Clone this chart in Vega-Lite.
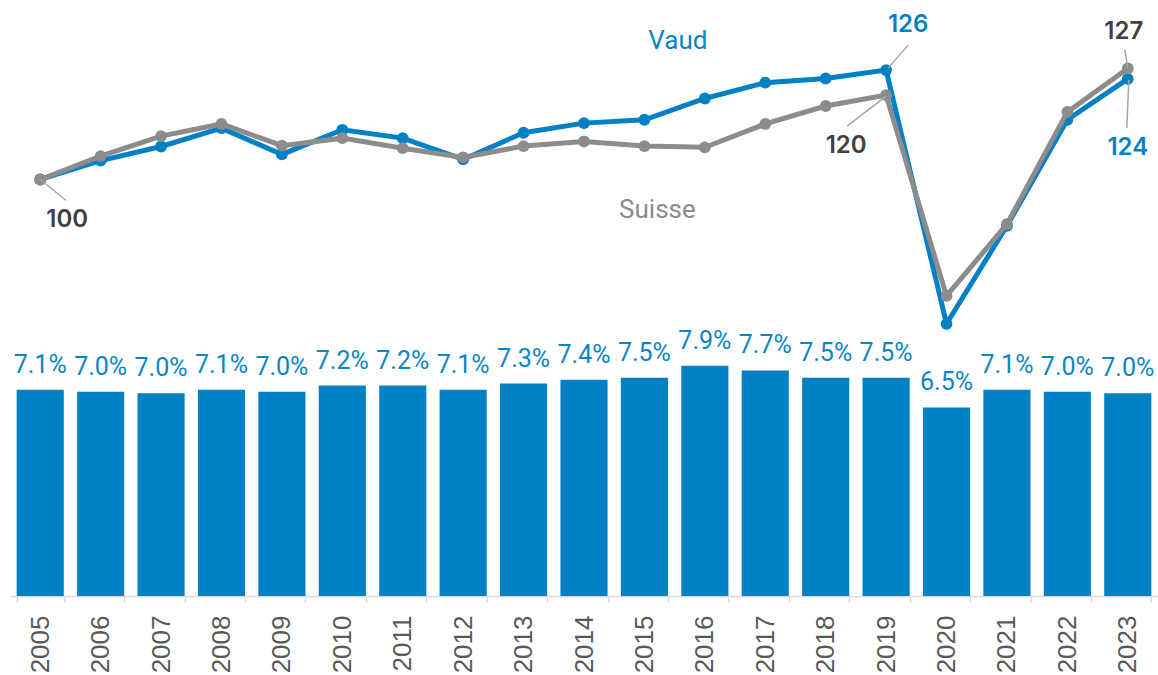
{
  "$schema": "https://vega.github.io/schema/vega-lite/v6.json",
  "width": 1148,
  "height": 596,
  "autosize": {"type": "none"},
  "padding": {"left": 10, "top": 0, "right": 0, "bottom": 79},
  "background": "white",
  "config": {"view": {"stroke": null}},
  "data": {
    "values": [
      {"year": "2005", "share": 0.0708, "vaud": 100.0, "suisse": 100.0},
      {"year": "2006", "share": 0.0701, "vaud": 104.5, "suisse": 105.6},
      {"year": "2007", "share": 0.0696, "vaud": 107.9, "suisse": 110.4},
      {"year": "2008", "share": 0.0708, "vaud": 112.3, "suisse": 113.3},
      {"year": "2009", "share": 0.0701, "vaud": 106.0, "suisse": 108.1},
      {"year": "2010", "share": 0.0722, "vaud": 111.9, "suisse": 109.9},
      {"year": "2011", "share": 0.0722, "vaud": 109.9, "suisse": 107.5},
      {"year": "2012", "share": 0.0708, "vaud": 104.8, "suisse": 105.3},
      {"year": "2013", "share": 0.0729, "vaud": 111.2, "suisse": 108.0},
      {"year": "2014", "share": 0.0742, "vaud": 113.5, "suisse": 109.1},
      {"year": "2015", "share": 0.0749, "vaud": 114.3, "suisse": 108.0},
      {"year": "2016", "share": 0.0790, "vaud": 119.4, "suisse": 107.7},
      {"year": "2017", "share": 0.0774, "vaud": 123.2, "suisse": 113.3},
      {"year": "2018", "share": 0.0749, "vaud": 124.2, "suisse": 117.6},
      {"year": "2019", "share": 0.0749, "vaud": 126.2, "suisse": 120.2},
      {"year": "2020", "share": 0.0647, "vaud": 65.4, "suisse": 72.1},
      {"year": "2021", "share": 0.0708, "vaud": 88.9, "suisse": 89.3},
      {"year": "2022", "share": 0.0701, "vaud": 114.3, "suisse": 116.2},
      {"year": "2023", "share": 0.0696, "vaud": 124.1, "suisse": 126.6}
    ]
  },
  "encoding": {
    "x": {
      "field": "year",
      "type": "ordinal",
      "scale": {"paddingInner": 0.22, "paddingOuter": 0.11},
      "axis": {
        "title": null,
        "labelAngle": -90,
        "labelFont": "Liberation Sans",
        "labelFontSize": 26,
        "labelColor": "#595959",
        "labelPadding": 13,
        "tickBand": "extent",
        "tickColor": "#D9D9D9",
        "tickWidth": 1.5,
        "tickSize": 6,
        "domainColor": "#D9D9D9",
        "domainWidth": 1.5
      }
    }
  },
  "layer": [
    {
      "mark": {"type": "bar", "color": "#0081C6"},
      "encoding": {
        "y": {"field": "share", "type": "quantitative", "scale": {"domain": [0, 0.2045]}, "axis": null}
      }
    },
    {
      "mark": {"type": "text", "font": "Roboto", "fontSize": 25, "color": "#0A85C7", "baseline": "alphabetic", "dy": -17},
      "encoding": {
        "y": {"field": "share", "type": "quantitative", "scale": {"domain": [0, 0.2045]}, "axis": null},
        "text": {"field": "share", "type": "quantitative", "format": ".1%"}
      }
    },
    {
      "mark": {"type": "line", "color": "#0081C6", "strokeWidth": 5},
      "encoding": {
        "y": {"field": "vaud", "type": "quantitative", "scale": {"domain": [0.2, 143]}, "axis": null}
      }
    },
    {
      "mark": {"type": "point", "filled": true, "opacity": 1, "color": "#0081C6", "size": 140},
      "encoding": {
        "y": {"field": "vaud", "type": "quantitative", "scale": {"domain": [0.2, 143]}, "axis": null}
      }
    },
    {
      "mark": {"type": "line", "color": "#8C8C8C", "strokeWidth": 5},
      "encoding": {
        "y": {"field": "suisse", "type": "quantitative", "scale": {"domain": [0.2, 143]}, "axis": null}
      }
    },
    {
      "mark": {"type": "point", "filled": true, "opacity": 1, "color": "#8C8C8C", "size": 140},
      "encoding": {
        "y": {"field": "suisse", "type": "quantitative", "scale": {"domain": [0.2, 143]}, "axis": null}
      }
    },
    {
      "transform": [{"filter": "datum.year == '2005'"}],
      "layer": [
        {
          "mark": {"type": "rule", "color": "#A6A6A6", "strokeWidth": 1.5, "x2Offset": 26, "y2Offset": 21},
          "encoding": {
            "y": {"field": "suisse", "type": "quantitative", "scale": {"domain": [0.2, 143]}, "axis": null},
            "x2": {"field": "year"},
            "y2": {"field": "suisse"}
          }
        },
        {
          "mark": {"type": "text", "font": "Inter", "fontWeight": 600, "fontSize": 24, "color": "#404040", "baseline": "middle", "dx": 27, "dy": 41},
          "encoding": {
            "y": {"field": "suisse", "type": "quantitative", "scale": {"domain": [0.2, 143]}, "axis": null},
            "text": {"field": "suisse", "type": "quantitative", "format": ".0f"}
          }
        }
      ]
    },
    {
      "transform": [{"filter": "datum.year == '2019'"}],
      "layer": [
        {
          "mark": {"type": "rule", "color": "#A6A6A6", "strokeWidth": 1.5, "xOffset": 2, "yOffset": -2, "x2Offset": 22, "y2Offset": -25},
          "encoding": {
            "y": {"field": "vaud", "type": "quantitative", "scale": {"domain": [0.2, 143]}, "axis": null},
            "x2": {"field": "year"},
            "y2": {"field": "vaud"}
          }
        },
        {
          "mark": {"type": "text", "font": "Inter", "fontWeight": 600, "fontSize": 24, "color": "#0081C6", "baseline": "middle", "dx": 22, "dy": -45},
          "encoding": {
            "y": {"field": "vaud", "type": "quantitative", "scale": {"domain": [0.2, 143]}, "axis": null},
            "text": {"field": "vaud", "type": "quantitative", "format": ".0f"}
          }
        },
        {
          "mark": {"type": "rule", "color": "#A6A6A6", "strokeWidth": 1.5, "yOffset": 1, "x2Offset": -39, "y2Offset": 31},
          "encoding": {
            "y": {"field": "suisse", "type": "quantitative", "scale": {"domain": [0.2, 143]}, "axis": null},
            "x2": {"field": "year"},
            "y2": {"field": "suisse"}
          }
        },
        {
          "mark": {"type": "text", "font": "Inter", "fontWeight": 600, "fontSize": 24, "color": "#404040", "baseline": "middle", "dx": -40, "dy": 51},
          "encoding": {
            "y": {"field": "suisse", "type": "quantitative", "scale": {"domain": [0.2, 143]}, "axis": null},
            "text": {"field": "suisse", "type": "quantitative", "format": ".0f"}
          }
        }
      ]
    },
    {
      "transform": [{"filter": "datum.year == '2023'"}],
      "layer": [
        {
          "mark": {"type": "rule", "color": "#A6A6A6", "strokeWidth": 1.5, "xOffset": -3, "yOffset": -19},
          "encoding": {
            "y": {"field": "suisse", "type": "quantitative", "scale": {"domain": [0.2, 143]}, "axis": null},
            "x2": {"field": "year"},
            "y2": {"field": "suisse"}
          }
        },
        {
          "mark": {"type": "text", "font": "Inter", "fontWeight": 600, "fontSize": 24, "color": "#404040", "baseline": "middle", "dx": -4, "dy": -36},
          "encoding": {
            "y": {"field": "suisse", "type": "quantitative", "scale": {"domain": [0.2, 143]}, "axis": null},
            "text": {"field": "suisse", "type": "quantitative", "format": ".0f"}
          }
        },
        {
          "mark": {"type": "rule", "color": "#A6A6A6", "strokeWidth": 1.5, "xOffset": 1, "yOffset": 1, "x2Offset": -1, "y2Offset": 49},
          "encoding": {
            "y": {"field": "vaud", "type": "quantitative", "scale": {"domain": [0.2, 143]}, "axis": null},
            "x2": {"field": "year"},
            "y2": {"field": "vaud"}
          }
        },
        {
          "mark": {"type": "text", "font": "Inter", "fontWeight": 600, "fontSize": 24, "color": "#0081C6", "baseline": "middle", "dx": 0, "dy": 69},
          "encoding": {
            "y": {"field": "vaud", "type": "quantitative", "scale": {"domain": [0.2, 143]}, "axis": null},
            "text": {"field": "vaud", "type": "quantitative", "format": ".0f"}
          }
        }
      ]
    },
    {
      "transform": [{"filter": "datum.year == '2016'"}],
      "mark": {"type": "text", "font": "Roboto", "fontSize": 26, "color": "#0A85C7", "baseline": "alphabetic", "dx": -27, "dy": -49},
      "encoding": {
        "y": {"field": "vaud", "type": "quantitative", "scale": {"domain": [0.2, 143]}, "axis": null},
        "text": {"value": "Vaud"}
      }
    },
    {
      "transform": [{"filter": "datum.year == '2015'"}],
      "mark": {"type": "text", "font": "Roboto", "fontSize": 26, "color": "#8C8C8C", "baseline": "alphabetic", "dx": 13, "dy": 72},
      "encoding": {
        "y": {"field": "suisse", "type": "quantitative", "scale": {"domain": [0.2, 143]}, "axis": null},
        "text": {"value": "Suisse"}
      }
    }
  ],
  "resolve": {"scale": {"y": "independent"}}
}
